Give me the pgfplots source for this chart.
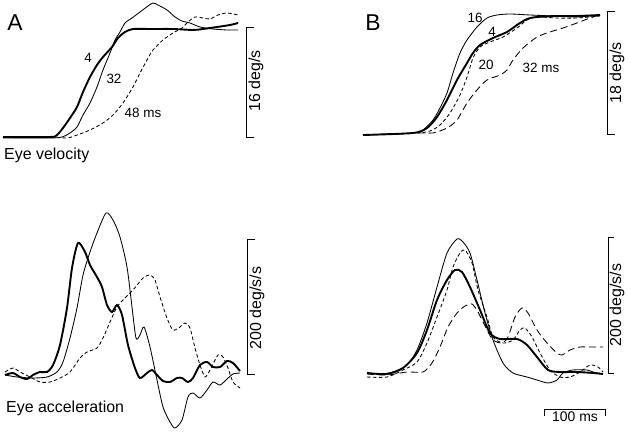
\documentclass[border=0pt]{standalone}
\usepackage{pgfplots}
\pgfplotsset{compat=1.18}
\usepackage{fontspec}
\setmainfont{Liberation Sans}
\begin{document}
\begin{tikzpicture}
\begin{axis}[
  x=1bp, y=1bp, y dir=reverse,
  xmin=0, xmax=631, ymin=0, ymax=433,
  hide axis, clip=false,
  every axis plot/.append style={black, smooth, tension=0.45},
]
\path (axis cs:0,0) rectangle (axis cs:631,433);
% ---------- Panel A velocity ----------
% thick 4
\addplot[line width=1.9pt] coordinates {(3,137) (50,137) (57,135) (63,128) (70,118) (77,107) (83,92) (90,77) (97,65) (103,57) (112,47) (118,38) (125,32) (133,29) (150,29) (173,29) (193,30) (203,29) (217,27) (230,25) (238,23)};
% thin 32
\addplot[line width=0.85pt] coordinates {(3,138) (50,138) (62,137) (70,133) (77,127) (83,115) (90,103) (97,87) (103,70) (110,53) (115,40) (120,32) (125,23) (132,18) (140,12) (148,6) (153,3) (158,5) (167,10) (175,17) (182,21) (190,23) (200,27) (213,29) (227,30) (238,30)};
% dashed 48
\addplot[line width=0.85pt, dash pattern=on 3.5pt off 2.5pt] coordinates {(3,137) (50,137) (67,138) (77,135) (90,130) (103,123) (113,115) (123,103) (133,87) (140,73) (147,60) (153,50) (163,40) (173,33) (182,28) (188,22) (195,17) (203,18) (210,19) (218,15) (227,13) (238,15)};
% scale bar
\addplot[line width=0.85pt, sharp plot] coordinates {(254,27) (246,27) (246,137) (254,137)};
\node[rotate=90, font=\fontsize{16}{16}\selectfont] at (axis cs:256,81) {16 deg/s};
\node[font=\fontsize{13.5}{13.5}\selectfont] at (axis cs:88,58) {4};
\node[font=\fontsize{13.5}{13.5}\selectfont] at (axis cs:114,79) {32};
\node[font=\fontsize{13.5}{13.5}\selectfont] at (axis cs:143,113) {48 ms};
\node[font=\fontsize{23}{23}\selectfont] at (axis cs:15,23) {A};
\node[font=\fontsize{16}{16}\selectfont, anchor=west, inner sep=0pt] at (axis cs:4,155) {Eye velocity};
% ---------- Panel B velocity ----------
% thin 16
\addplot[line width=0.85pt] coordinates {(363,135) (413,133) (423,130) (433,120) (440,108) (447,93) (453,73) (460,53) (467,40) (477,27) (487,18) (497,15) (510,14) (530,15) (553,16) (577,17) (600,15)};
% thick 4
\addplot[line width=1.9pt] coordinates {(363,135) (413,133) (427,128) (437,117) (447,100) (457,80) (467,63) (473,53) (480,45) (493,38) (507,32) (517,25) (527,19) (537,17) (557,16) (577,16) (600,15)};
% short dashed 20
\addplot[line width=0.85pt, dash pattern=on 3.5pt off 2.5pt] coordinates {(363,135) (417,133) (430,131) (440,125) (450,113) (460,95) (467,77) (473,58) (480,47) (490,42) (503,37) (517,28) (527,20) (537,17) (557,18) (577,18) (600,16)};
% long dashed 32
\addplot[line width=0.85pt, dash pattern=on 7pt off 4pt] coordinates {(363,135) (420,133) (433,133) (447,128) (457,120) (467,103) (477,90) (487,80) (500,75) (507,70) (513,60) (523,48) (537,37) (550,32) (563,28) (577,23) (590,18) (600,15)};
\addplot[line width=0.85pt, sharp plot] coordinates {(615,11) (607,11) (607,134) (615,134)};
\node[rotate=90, font=\fontsize{16}{16}\selectfont] at (axis cs:617,73) {18 deg/s};
\node[font=\fontsize{13.5}{13.5}\selectfont] at (axis cs:475,18) {16};
\node[font=\fontsize{13.5}{13.5}\selectfont] at (axis cs:492,32) {4};
\node[font=\fontsize{13.5}{13.5}\selectfont] at (axis cs:486,65) {20};
\node[font=\fontsize{13.5}{13.5}\selectfont] at (axis cs:541,68) {32 ms};
\node[font=\fontsize{23}{23}\selectfont] at (axis cs:373,23) {B};
% ---------- Panel A acceleration ----------
% thick
\addplot[line width=1.9pt] coordinates {(5,375) (13,373) (20,377) (27,379) (33,375) (40,372) (47,372) (53,365) (60,345) (67,308) (72,268) (78,243) (85,252) (90,265) (97,277) (102,287) (107,305) (112,312) (117,305) (122,315) (128,345) (135,368) (140,378) (147,373) (152,370) (157,375) (163,381) (170,382) (177,378) (182,378) (188,382) (193,378) (200,365) (207,362) (213,367) (220,367) (227,361) (233,363) (240,371)};
% thin
\addplot[line width=0.85pt] coordinates {(5,375) (17,377) (33,378) (47,377) (57,372) (63,362) (70,338) (77,308) (83,275) (90,252) (97,233) (106,213) (113,220) (120,237) (127,267) (132,307) (136,338) (140,335) (144,327) (150,347) (157,380) (163,407) (170,422) (175,428) (182,420) (188,397) (193,393) (200,398) (207,390) (213,382) (220,385) (227,379) (233,374) (240,373)};
% dashed
\addplot[line width=0.85pt, dash pattern=on 3.5pt off 2.5pt] coordinates {(5,372) (13,368) (20,372) (30,377) (40,382) (50,382) (60,378) (70,372) (80,358) (87,352) (97,348) (103,338) (110,322) (117,307) (123,300) (133,290) (143,278) (150,275) (155,280) (160,297) (167,318) (173,330) (180,327) (185,323) (190,328) (195,348) (200,365) (205,377) (210,370) (218,355) (223,357) (228,368) (233,382) (240,388)};
\addplot[line width=0.85pt, sharp plot] coordinates {(255,239) (247,239) (247,374) (255,374)};
\node[rotate=90, font=\fontsize{16}{16}\selectfont] at (axis cs:257,308) {200 deg/s/s};
\node[font=\fontsize{16}{16}\selectfont, anchor=west, inner sep=0pt] at (axis cs:6,408) {Eye acceleration};
% ---------- Panel B acceleration ----------
% thin
\addplot[line width=0.85pt] coordinates {(367,373) (380,374) (393,372) (407,365) (417,350) (427,323) (437,287) (447,253) (457,239) (463,242) (470,253) (477,280) (485,313) (493,340) (503,363) (513,373) (527,377) (537,380) (548,383) (557,380) (563,373) (573,370) (587,370) (593,372) (603,374)};
% thick
\addplot[line width=1.9pt] coordinates {(367,373) (387,374) (403,368) (417,353) (427,330) (437,300) (447,280) (455,270) (462,272) (470,287) (480,310) (490,333) (500,339) (517,339) (527,345) (537,357) (548,370) (560,372) (577,372) (593,373) (603,374)};
% short dashed
\addplot[line width=0.85pt, dash pattern=on 3.5pt off 2.5pt] coordinates {(367,377) (387,377) (403,370) (417,362) (427,343) (437,317) (447,290) (453,267) (460,253) (465,250) (472,263) (478,290) (487,317) (493,337) (503,343) (513,340) (520,330) (525,328) (532,337) (540,353) (550,370) (560,377) (570,377) (580,372) (590,365) (598,367) (603,372)};
% long dashed
\addplot[line width=0.85pt, dash pattern=on 7pt off 4pt] coordinates {(367,374) (387,375) (407,372) (423,372) (432,363) (440,347) (448,327) (457,313) (465,306) (472,304) (478,312) (487,330) (493,340) (502,343) (508,337) (515,317) (522,308) (528,313) (537,330) (547,343) (557,353) (562,355) (570,350) (580,347) (593,347) (603,347)};
\addplot[line width=0.85pt, sharp plot] coordinates {(614,237) (608,237) (608,373) (614,373)};
\node[rotate=90, font=\fontsize{16}{16}\selectfont] at (axis cs:617,305) {200 deg/s/s};
% time scale bar
\addplot[line width=0.85pt, sharp plot] coordinates {(544,416) (544,409) (605,409) (605,416)};
\node[font=\fontsize{14}{14}\selectfont] at (axis cs:575,417) {100 ms};
\end{axis}
\end{tikzpicture}
\end{document}
